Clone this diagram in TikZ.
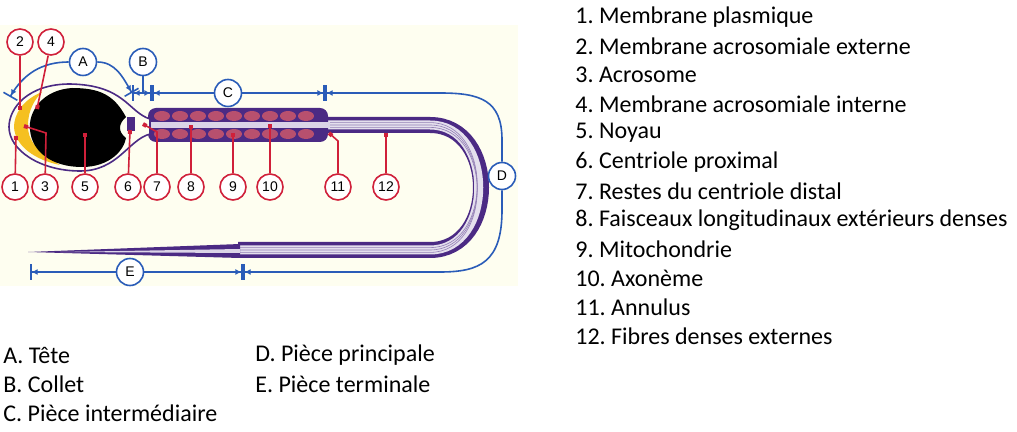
\documentclass[tikz,border=0pt]{standalone}
\usepackage{fontspec}
\setmainfont{Carlito}
\setsansfont{Liberation Sans}
\usetikzlibrary{positioning, calc, arrows.meta}
\definecolor{colour_bg}{HTML}{FEFEF0}
\definecolor{colour_cell}{HTML}{4B2A84}
\definecolor{colour_mito}{HTML}{B8506E}
\definecolor{colour_acro}{HTML}{F5C020}
\definecolor{colour_num}{HTML}{D0203A}
\definecolor{colour_dim}{HTML}{2A5CB8}
\frenchspacing
\begin{document}
\begin{tikzpicture}[
    x=0.5pt, y=-0.5pt,
    num/.style={circle, draw=colour_num, thick, fill=white, inner sep=0pt,
                minimum size=13pt, font=\sffamily\scriptsize},
    part/.style={circle, draw=colour_dim, thick, fill=white, inner sep=0pt,
                 minimum size=13.5pt, font=\sffamily\scriptsize},
    lead/.style={draw=colour_num, thick, -{Square[length=2pt,width=2pt]}},
    dim/.style={draw=colour_dim, thick},
    dimend/.style={-{Latex[length=3pt,width=3pt]Bar[width=8pt]}},
    legend/.style={anchor=west, inner sep=0pt, font=\fontsize{12}{14}\selectfont}
]
\useasboundingbox (0,0) rectangle (1017,432);
\fill[colour_bg] (0,25) rectangle (518,286);

% Tail
\draw[colour_cell, line width=8pt] (320,125) -- (430,125)
    .. controls (498,125) and (498,250) .. (430,250) -- (238,250);
\draw[white!85!colour_cell, line width=4.5pt] (320,125) -- (430,125)
    .. controls (495,125) and (495,250) .. (430,250) -- (238,250);
\foreach \d in {-1.2,0,1.2}
  \draw[colour_cell!60, line width=0.3pt, yshift=\d pt] (320,125) -- (430,125)
      .. controls (493,125) and (493,250) .. (430,250) -- (238,250);
\fill[colour_cell] (240,244) -- (28,252) -- (240,258) -- cycle;
\fill[white!80!colour_cell] (240,249) -- (60,252) -- (240,253) -- cycle;

% Midpiece
\fill[colour_cell, rounded corners=4pt] (148,108) rectangle (328,142);
\foreach \x in {162,180,...,318} {
  \fill[colour_mito] (\x,116) ellipse (8 and 5);
  \fill[colour_mito] (\x,134) ellipse (8 and 5);
}
\fill[white!80!colour_cell] (145,122) rectangle (330,128);

% Head
\draw[colour_cell, thick, fill=colour_bg]
    (150,119) .. controls (128,112) and (125,85) .. (70,84)
    .. controls (28,84) and (9,108) .. (9,127)
    .. controls (9,150) and (40,171) .. (80,171)
    .. controls (118,171) and (128,140) .. (150,134) -- cycle;
\fill[colour_acro] (42,92) .. controls (22,100) and (14,115) .. (14,127)
    .. controls (15,146) and (35,160) .. (60,165)
    .. controls (38,152) and (27,140) .. (28,125)
    .. controls (28,110) and (35,99) .. (42,92) -- cycle;
\fill[black] (126,117) .. controls (114,95) and (100,88) .. (72,88)
    .. controls (42,90) and (28,112) .. (30,130)
    .. controls (32,152) and (52,167) .. (82,167)
    .. controls (110,167) and (124,150) .. (126,138)
    .. controls (118,132) and (118,124) .. (126,117) -- cycle;
\fill[colour_cell] (127,117) rectangle (135,131);

% Dimension lines
\node[part] (A) at (83,62) {A};
\node[part] (B) at (143,62) {B};
\node[part] (C) at (228,93) {C};
\node[part] (D) at (502,176) {D};
\node[part] (E) at (130,272) {E};
\coordinate (a1) at (10,97);
\coordinate (a2) at (132,93);
\coordinate (b2) at (152,93);
\coordinate (c2) at (325,93);
\coordinate (e1) at (30,272);
\coordinate (e2) at (243,272);
\draw[dim, dimend] (A) to[out=180, in=60] (a1);
\draw[dim, dimend] (A) to[out=0, in=120] (a2);
\draw[dim] (B) -- (143,93);
\draw[dim, dimend] (143,93) -- (a2);
\draw[dim, dimend] (143,93) -- (b2);
\draw[dim, dimend] (C) -- (b2);
\draw[dim, dimend] (C) -- (c2);
\draw[dim, dimend] (D) -- (502,140) .. controls (502,100) and (480,93) .. (440,93) -- (c2);
\draw[dim, dimend] (D) -- (502,210) .. controls (502,262) and (480,272) .. (440,272) -- (e2);
\draw[dim, dimend] (E) -- (e1);
\draw[dim, dimend] (E) -- (e2);

% Numbered parts
\node[num] (n2) at (20,42) {2};
\node[num] (n4) at (51,42) {4};
\foreach \n/\x in {1/15, 3/45, 5/85, 6/128, 7/157, 8/191, 9/233, 10/270, 11/338, 12/386}
  \node[num] (n\n) at (\x,187) {\n};
\draw[lead] (n2) -- (20,110);
\draw[lead] (n4) -- (37,109);
\draw[lead] (n1) -- (16,136);
\draw[lead] (n3) -- (46,133) -- (24,126);
\draw[lead] (n5) -- (85,133);
\draw[lead] (n6) -- (130,130);
\draw[lead] (n7) -- (157,132) -- (143,124);
\draw[lead] (n8) -- (191,125);
\draw[lead] (n9) -- (233,133);
\draw[lead] (n10) -- (270,124);
\draw[lead] (n11) -- (338,141) -- (329,133);
\draw[lead] (n12) -- (386,133);

% Legend
\foreach \t [count=\i] in {Membrane plasmique, Membrane acrosomiale externe, Acrosome,
    Membrane acrosomiale interne, Noyau, Centriole proximal, Restes du centriole distal,
    Faisceaux longitudinaux extérieurs denses, Mitochondrie, Axonème, Annulus,
    Fibres denses externes}
  \node[legend] (l\i) at (575,{17+29*(\i-1)}) {\i.~\t};
\node[legend] (lA) at (3,355) {A. Tête};
\node[legend] (lB) at (3,384) {B. Collet};
\node[legend] (lC) at (3,413) {C. Pièce intermédiaire};
\node[legend] (lD) at (255,355) {D. Pièce principale};
\node[legend] (lE) at (255,384) {E. Pièce terminale};
\end{tikzpicture}
\end{document}
